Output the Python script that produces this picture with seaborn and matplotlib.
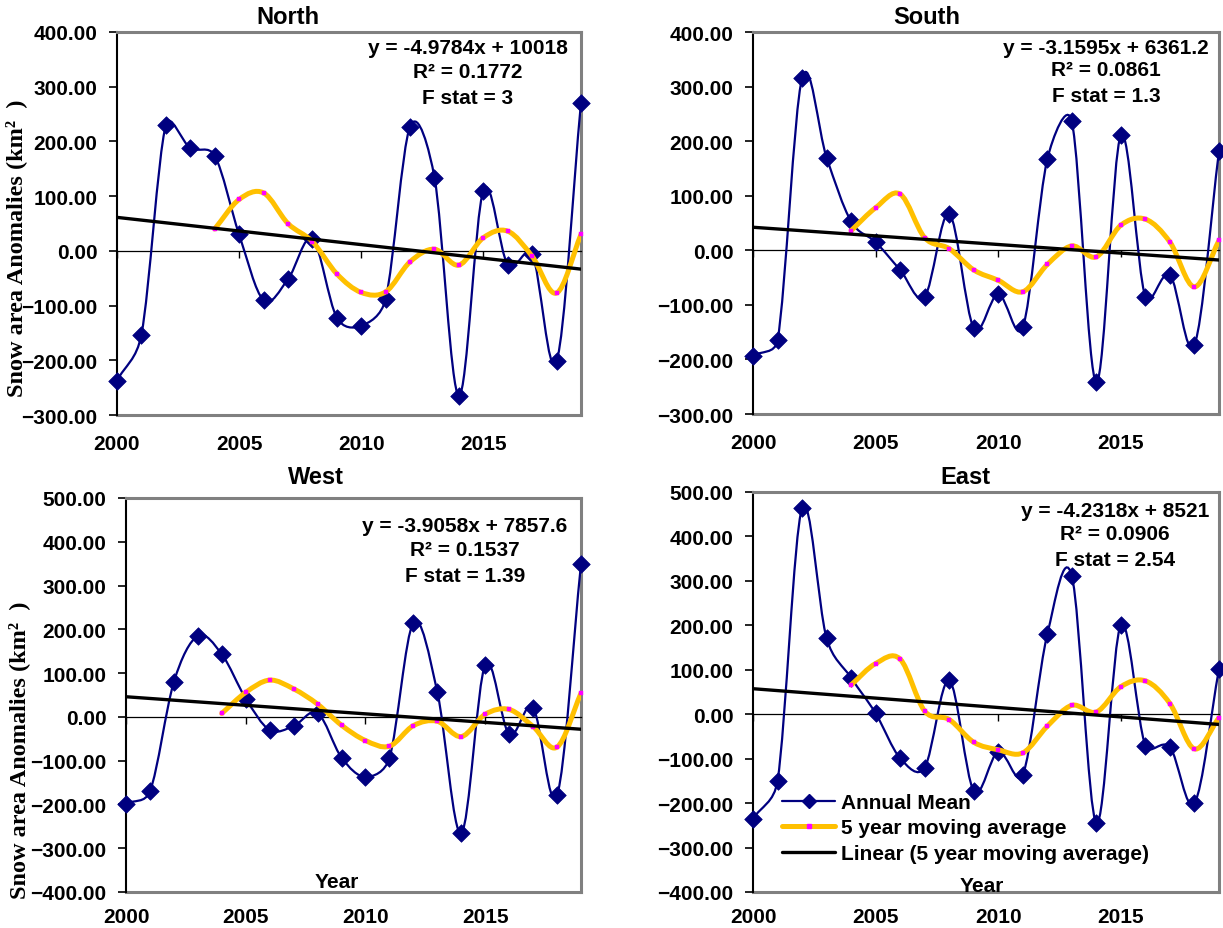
import numpy as np
import matplotlib
matplotlib.use("Agg")
import matplotlib.pyplot as plt
from matplotlib.path import Path
from matplotlib.patches import PathPatch
from matplotlib.lines import Line2D
import seaborn as sns

# ---------------- data ----------------
years = list(range(2000, 2020))
ma_years = list(range(2004, 2020))
x_ticks = [2000, 2005, 2010, 2015]

north_annual = [-237, -153, 230, 188, 174, 30, -90, -52, 22, -122,
                -137, -88, 227, 134, -265, 110, -25, -5, -202, 271]
north_ma = [40, 94, 106, 50, 17, -42, -76, -75, -20, 3,
            -26, 24, 36, -10, -77, 30]
north_fit = [-4.9784, 10018]
north_text = ["y = -4.9784x + 10018", "R² = 0.1772", "F stat = 3"]

south_annual = [-193, -165, 315, 170, 53, 15, -36, -85, 67, -142,
                -80, -141, 167, 236, -242, 211, -86, -45, -173, 182]
south_ma = [36, 78, 103, 23, 3, -36, -55, -76, -26, 8,
            -12, 46, 57, 15, -67, 18]
south_fit = [-3.1595, 6361.2]
south_text = ["y = -3.1595x + 6361.2", "R² = 0.0861", "F stat = 1.3"]

west_annual = [-198, -170, 80, 185, 143, 42, -30, -21, 9, -93,
               -137, -94, 215, 57, -266, 119, -40, 21, -179, 349]
west_ma = [8, 56, 84, 64, 29, -19, -54, -67, -20, -10,
           -45, 6, 17, -22, -69, 54]
west_fit = [-3.9058, 7857.6]
west_text = ["y = -3.9058x + 7857.6", "R² = 0.1537", "F stat = 1.39"]

east_annual = [-235, -150, 464, 171, 82, 2, -99, -120, 76, -172,
               -84, -136, 180, 311, -245, 201, -71, -74, -200, 102]
east_ma = [66, 114, 124, 7, -12, -63, -80, -87, -27, 20,
           5, 62, 75, 24, -78, -8]
east_fit = [-4.2318, 8521]
east_text = ["y = -4.2318x + 8521", "R² = 0.0906", "F stat = 2.54"]

titles = ["North", "South", "West", "East"]
ylabel = "Snow area Anomalies (km²  )"
xlabel = "Year"
legend_labels = ["Annual Mean", "5 year moving average",
                 "Linear (5 year moving average)"]

# ---------------- style ----------------
sns.set_style("white")
plt.rcParams["font.family"] = ["Liberation Sans", "DejaVu Sans"]
plt.rcParams["text.color"] = "black"
plt.rcParams["xtick.color"] = "black"
plt.rcParams["ytick.color"] = "black"
plt.rcParams["axes.labelcolor"] = "black"

NAVY = "#000080"
GOLD = "#FFC000"
MAGENTA = "#FF00FF"
FRAME = "#808080"
FS = 15

W, H = 1223, 929
fig = plt.figure(figsize=(W / 100, H / 100), dpi=100)


def px_rect(l, t, r, b):
    return [l / W, 1 - b / H, (r - l) / W, (b - t) / H]


def fx(x):
    return x / W


def fy(y):
    return 1 - y / H


def smooth_path(xs, ys, sx, sy):
    """Excel-like smoothed line: cubic Bezier segments through the points,
    control arms computed in screen space and capped at half the segment."""
    P = np.column_stack([np.asarray(xs, float) * sx,
                         np.asarray(ys, float) * sy])
    n = len(P)
    verts = [P[0]]
    codes = [Path.MOVETO]
    for i in range(n - 1):
        p1, p2 = P[i], P[i + 1]
        p0 = P[i - 1] if i > 0 else p1
        p3 = P[i + 2] if i + 2 < n else p2
        f0 = 1 / 6 if i > 0 else 1 / 3
        f1 = 1 / 6 if i + 2 < n else 1 / 3
        a1 = f0 * (p2 - p0)
        a2 = f1 * (p3 - p1)
        cap = np.hypot(*(p2 - p1)) / 2
        for a in (a1, a2):
            la = np.hypot(*a)
            if la > cap and la > 0:
                a *= cap / la
        verts += [p1 + a1, p2 - a2, p2]
        codes += [Path.CURVE4] * 3
    V = np.array(verts) / np.array([sx, sy])
    return Path(V, codes)


panels = [
    dict(rect=(117, 33, 581, 416), ylim=(-300, 400), annual=north_annual,
         ma=north_ma, fit=north_fit, text=north_text, title=titles[0],
         title_xy=(288, 17), text_xy=(468, [49, 73, 98]), xpad=14,
         ylabel_xy=(16, 248), year_xy=None),
    dict(rect=(753, 33, 1219, 415), ylim=(-300, 400), annual=south_annual,
         ma=south_ma, fit=south_fit, text=south_text, title=titles[1],
         title_xy=(927, 17), text_xy=(1106, [48, 71, 96]), xpad=14,
         ylabel_xy=None, year_xy=None),
    dict(rect=(126, 499, 581, 893), ylim=(-400, 500), annual=west_annual,
         ma=west_ma, fit=west_fit, text=west_text, title=titles[2],
         title_xy=(316, 478), text_xy=(465, [527, 551, 576]), xpad=11,
         ylabel_xy=(19, 750), year_xy=(337, 883)),
    dict(rect=(753, 493, 1219, 893), ylim=(-400, 500), annual=east_annual,
         ma=east_ma, fit=east_fit, text=east_text, title=titles[3],
         title_xy=(965, 478), text_xy=(1115, [512, 535, 560]), xpad=11,
         ylabel_xy=None, year_xy=(982, 887)),
]

for i, p in enumerate(panels):
    l, t, r, b = p["rect"]
    ax = fig.add_axes(px_rect(l, t, r, b))
    ax.set_xlim(2000, 2019)
    ax.set_ylim(*p["ylim"])
    lo, hi = p["ylim"]
    sx = (r - l) / 19.0
    sy = (b - t) / float(hi - lo)

    # annual mean: smoothed navy line + diamonds
    ax.add_patch(PathPatch(smooth_path(years, p["annual"], sx, sy),
                           fill=False, edgecolor=NAVY, lw=1.6, zorder=3))
    sns.scatterplot(x=years, y=p["annual"], marker="D", s=80, color=NAVY,
                    edgecolor=NAVY, linewidth=0.5, ax=ax, zorder=4,
                    clip_on=False, legend=False)

    # 5 year moving average: smoothed gold line + magenta squares
    ax.add_patch(PathPatch(smooth_path(ma_years, p["ma"], sx, sy),
                           fill=False, edgecolor=GOLD, lw=3.6, zorder=5,
                           capstyle="round", joinstyle="round"))
    sns.scatterplot(x=ma_years, y=p["ma"], marker="s", s=10, color=MAGENTA,
                    edgecolor=MAGENTA, linewidth=0.3, ax=ax, zorder=6,
                    clip_on=False, legend=False)

    # linear trend from the printed equation
    fit_x = [2000, 2019]
    fit_y = [p["fit"][0] * yr + p["fit"][1] for yr in fit_x]
    sns.lineplot(x=fit_x, y=fit_y, color="black", lw=2.4, ax=ax, zorder=7)

    # axes styling
    ax.set_yticks(list(range(lo, hi + 1, 100)))
    ax.yaxis.set_major_formatter("{x:.2f}")
    ax.tick_params(axis="y", direction="out", length=6, width=1.2,
                   color="black", pad=8, labelsize=FS, left=True,
                   labelcolor="black")
    for lab in ax.get_yticklabels():
        lab.set_fontweight("bold")

    ax.set_xticks(x_ticks)
    ax.spines["bottom"].set_position(("data", 0))
    ax.spines["bottom"].set_color("black")
    ax.spines["bottom"].set_linewidth(0.9)
    ax.tick_params(axis="x", direction="out", length=5, width=1.0,
                   color="black", labelbottom=False, bottom=True)
    ax.spines["left"].set_color("black")
    ax.spines["left"].set_linewidth(1.5)
    for s in ("top", "right"):
        ax.spines[s].set_color(FRAME)
        ax.spines[s].set_linewidth(2.2)
    ax.set_xlabel("")
    ax.set_ylabel("")

    sec = ax.secondary_xaxis(0)
    sec.set_xticks(x_ticks)
    sec.tick_params(length=0, pad=p["xpad"], labelsize=FS,
                    labelcolor="black")
    for lab in sec.get_xticklabels():
        lab.set_fontweight("bold")
    sec.spines["bottom"].set_color(FRAME)
    sec.spines["bottom"].set_linewidth(2.2)

    # title
    fig.text(fx(p["title_xy"][0]), fy(p["title_xy"][1]), p["title"],
             ha="center", va="center", fontsize=17, fontweight="bold")

    # equation text
    tx, tys = p["text_xy"]
    for line, ty in zip(p["text"], tys):
        fig.text(fx(tx), fy(ty), line, ha="center", va="center",
                 fontsize=FS, fontweight="bold")

    if p["ylabel_xy"] is not None:
        fig.text(fx(p["ylabel_xy"][0]), fy(p["ylabel_xy"][1]), ylabel,
                 rotation=90, ha="center", va="center", fontsize=17.5,
                 fontweight="bold",
                 family=["Liberation Serif", "DejaVu Serif"])
    if p["year_xy"] is not None:
        fig.text(fx(p["year_xy"][0]), fy(p["year_xy"][1]), xlabel,
                 ha="center", va="center", fontsize=FS, fontweight="bold")

    if i == 3:
        handles = [
            Line2D([], [], color=NAVY, lw=1.6, marker="D", ms=7),
            Line2D([], [], color=GOLD, lw=3.6, marker="s", ms=3,
                   mfc=MAGENTA, mec=MAGENTA),
            Line2D([], [], color="black", lw=2.4),
        ]
        ax.legend(handles, legend_labels, loc="center left",
                  bbox_to_anchor=((782 - 753) / 466, (893 - 829) / 400),
                  frameon=False, borderpad=0, borderaxespad=0,
                  handlelength=2.55, handletextpad=0.3, labelspacing=0.32,
                  prop=dict(size=FS, weight="bold"))

fig.savefig("out.png", dpi=100, facecolor="white")
